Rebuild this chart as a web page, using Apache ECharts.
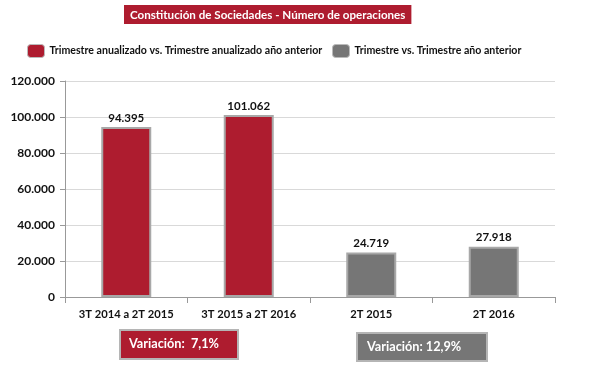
<!DOCTYPE html>
<html><head><meta charset="utf-8">
<script src="https://cdn.jsdelivr.net/npm/echarts@6/dist/echarts.min.js"></script>
<style>html,body{margin:0;padding:0;background:#fff}#c{width:589px;height:366px}</style>
</head><body><div id="c"></div>
<script>
const categories = ['3T 2014 a 2T 2015', '3T 2015 a 2T 2016', '2T 2015', '2T 2016'];
const annualValues = [94395, 101062, null, null];
const quarterValues = [null, null, 24719, 27918];
const seriesNames = ['Trimestre anualizado vs. Trimestre anualizado año anterior', 'Trimestre vs. Trimestre año anterior'];
const variationTexts = ['Variación:  7,1%', 'Variación: 12,9%'];
const yTicks = [0, 20000, 40000, 60000, 80000, 100000, 120000];

const RED = '#ae1c2f', GRAY = '#767676';
const fmt = v => v.toLocaleString('de-DE');
const FONT = 'Lato';
const chart = echarts.init(document.getElementById('c'));
const labelCfg = { show: true, position: 'top', distance: 3, formatter: p => fmt(p.value), fontFamily: FONT, fontWeight: 'bold', fontSize: 11.5, color: '#111' };
const legendText = { fontFamily: FONT, fontWeight: 'bold', fontSize: 10.6, color: '#111' };
chart.setOption({
  animation: false,
  title: {
    text: 'Constitución de Sociedades - Número de operaciones',
    left: 124, top: 5,
    backgroundColor: RED, padding: [4, 6, 3, 6],
    textStyle: { color: '#fff', fontFamily: FONT, fontWeight: 'bold', fontSize: 11.6 }
  },
  legend: [
    { top: 39, left: 22, itemWidth: 17, itemHeight: 13, itemGap: 6, textStyle: legendText,
      data: [{ name: seriesNames[0], itemStyle: { color: RED, borderColor: '#bbb', borderWidth: 1 } }] },
    { top: 39, left: 327, itemWidth: 17, itemHeight: 13, itemGap: 6, textStyle: legendText,
      data: [{ name: seriesNames[1], itemStyle: { color: GRAY, borderColor: '#bbb', borderWidth: 1 } }] }
  ],
  grid: { left: 65, right: 34, top: 81, bottom: 69 },
  xAxis: {
    type: 'category', data: categories,
    axisLine: { lineStyle: { color: '#999' } },
    axisTick: { show: true, interval: 0, length: 6, lineStyle: { color: '#999' } },
    axisLabel: { interval: 0, fontFamily: FONT, fontWeight: 'bold', fontSize: 11.2, color: '#111', margin: 12 }
  },
  yAxis: {
    type: 'value', min: 0, max: 120000, interval: 20000,
    axisLine: { show: true, lineStyle: { color: '#999' } },
    axisTick: { show: true, length: 5, lineStyle: { color: '#999' } },
    splitLine: { lineStyle: { color: '#d9d9d9' } },
    axisLabel: { fontFamily: FONT, fontWeight: 'bold', fontSize: 12, color: '#111', margin: 10, formatter: v => fmt(v) }
  },
  series: [
    { name: seriesNames[0], type: 'bar', data: annualValues, barWidth: 50, barGap: '-100%',
      itemStyle: { color: RED, borderColor: '#a8a8a8', borderWidth: 2 }, label: labelCfg },
    { name: seriesNames[1], type: 'bar', data: quarterValues, barWidth: 50,
      itemStyle: { color: GRAY, borderColor: '#a8a8a8', borderWidth: 2 }, label: labelCfg }
  ],
  graphic: [
    { type: 'rect', shape: { x: 120, y: 330, width: 118, height: 29 }, style: { fill: RED, stroke: '#b5b5b5', lineWidth: 2 } },
    { type: 'text', x: 129, y: 344, style: { text: variationTexts[0], fill: '#fff', font: 'bold 12.7px Lato', textVerticalAlign: 'middle' } },
    { type: 'rect', shape: { x: 357, y: 333, width: 130, height: 28 }, style: { fill: GRAY, stroke: '#b5b5b5', lineWidth: 2 } },
    { type: 'text', x: 367, y: 347, style: { text: variationTexts[1], fill: '#fff', font: 'bold 12.7px Lato', textVerticalAlign: 'middle' } }
  ]
});
</script></body></html>
